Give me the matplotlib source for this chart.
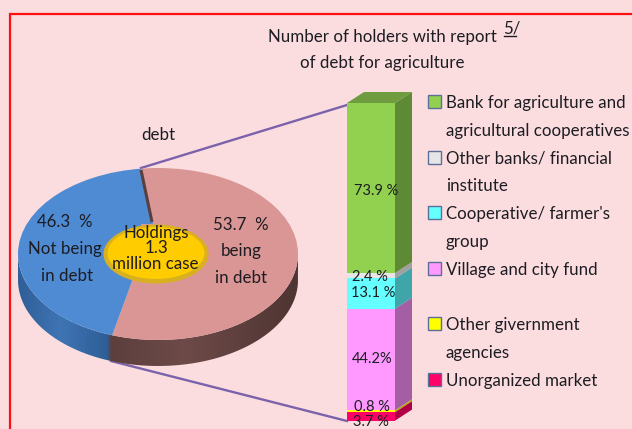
import matplotlib
matplotlib.use('Agg')
import matplotlib.pyplot as plt
import numpy as np
from matplotlib.patches import Ellipse, Rectangle, PathPatch
from matplotlib.path import Path
from matplotlib.colors import LinearSegmentedColormap

plt.rcParams['font.family'] = ['Lato', 'DejaVu Sans']

W, H = 632, 429
BG = '#fbdde0'
TXT = '#1c1c22'

# pie
pie_values = [53.7, 46.3]
pie_colors = ['#d99694', '#4f8bd2']

# stacked bar, bottom to top
bar_names = ['Unorganized market', 'Other givernment', 'Village and city fund',
             'Cooperative/ farmer\'s', 'Other banks/ financial', 'Bank for agriculture and']
bar_values = [3.7, 0.8, 44.2, 13.1, 2.4, 73.9]
bar_labels = ['3.7 %', '0.8 %', '44.2%', '13.1 %', '2.4 %', '73.9 %']
bar_colors = ['#ff0066', '#ffff00', '#ff99ff', '#66ffff', '#e6e6e6', '#92d050']
side_colors = ['#b00048', '#b0b000', '#a45fa4', '#40a5a8', '#a0a0a0', '#5f8a35']


def px_axes(x0, y0, x1, y1, z):
    a = fig.add_axes([x0 / W, 1 - y1 / H, (x1 - x0) / W, (y1 - y0) / H])
    a.set_zorder(z)
    a.axis('off')
    a.patch.set_alpha(0)
    return a


fig = plt.figure(figsize=(W / 100, H / 100), dpi=100, facecolor=BG)

# background axes in pixel coordinates
bg = px_axes(0, 0, W, H, 0)
bg.set_xlim(0, W)
bg.set_ylim(H, 0)
bg.plot([10, 10, W], [H, 14, 14], color='#ff1010', lw=1.6, solid_joinstyle='miter')

# connector lines
bg.plot([141, 347], [168, 105], color='#7b62ab', lw=1.7)
bg.plot([111, 347], [361, 421], color='#7b62ab', lw=1.7)

# side wall of the pie
cx, cy, a_p, b_p, depth = 158, 254, 140, 86, 26
t = np.linspace(np.pi, 2 * np.pi, 200)
ex = cx + a_p * np.cos(t)
ey = cy - b_p * np.sin(t)
wall = np.column_stack([np.r_[ex, ex[::-1]], np.r_[ey, ey[::-1] + depth]])
cmap = LinearSegmentedColormap.from_list('wall', [
    (0.0, '#2f5f98'), (0.15, '#3f74b4'), (0.32, '#2d5e96'), (0.33, '#5c3f3d'),
    (0.6, '#6d4a48'), (0.85, '#5a3d3b'), (1.0, '#4e3432')])
grad = np.linspace(0, 1, 300).reshape(1, -1)
im = bg.imshow(grad, extent=[cx - a_p, cx + a_p, cy + b_p + depth, cy], cmap=cmap, aspect='auto', zorder=2)
im.set_clip_path(PathPatch(Path(wall), transform=bg.transData))
bg.set_xlim(0, W)
bg.set_ylim(H, 0)

# pie top, stretched to an ellipse, apex pushed off centre under the gold disc
ax_pie = px_axes(cx - a_p, cy - b_p, cx + a_p, cy + b_p, 1)
wedges, _ = ax_pie.pie(pie_values, colors=pie_colors, startangle=90.6, counterclock=False,
                       center=(-0.114, 0), radius=1.5)
ax_pie.set_aspect('auto')
ax_pie.set_xlim(-1, 1)
ax_pie.set_ylim(-1, 1)
ax_pie.axis('off')
clip = Ellipse((0, 0), 2, 2, transform=ax_pie.transData)
for w in wedges:
    w.set_clip_on(True)
    w.set_clip_path(clip)

# top layer
top = px_axes(0, 0, W, H, 2)
top.set_xlim(0, W)
top.set_ylim(H, 0)

# blue runs up to the dark inner edge
top.fill([140, 153, 140], [168, 224, 224], color=pie_colors[1], lw=0)
top.plot([141, 152], [170, 222], color='#5a3f3f', lw=2.2, solid_capstyle='butt')
top.add_patch(Ellipse((156, 254), 105, 59, fc='#d9b020', ec='none'))
top.add_patch(Ellipse((156, 253), 97, 52, fc='#ffcc00', ec='none'))

fs = 12.2
for x, y, s in [(65, 222, '46.3  %'), (65, 249, 'Not being'), (67, 276, 'in debt'),
                (241, 225, '53.7  %'), (241, 251, 'being'), (241, 278, 'in debt'),
                (156, 233, 'Holdings'), (156, 248, '1.3'), (155, 264, 'million case'),
                (158, 135, 'debt')]:
    top.text(x, y, s, ha='center', va='center', fontsize=fs, color=TXT)

top.text(382, 37, 'Number of holders with report', ha='center', va='center', fontsize=fs, color=TXT)
top.text(382, 63, 'of debt for agriculture', ha='center', va='center', fontsize=fs, color=TXT)
top.text(512, 28, '5/', ha='center', va='center', fontsize=fs, color=TXT)
top.plot([504, 516], [35.5, 35.5], color=TXT, lw=1)

# legend
legend_rows = [(102, bar_colors[5], 'Bank for agriculture and'),
               (130, None, 'agricultural cooperatives'),
               (158, bar_colors[4], 'Other banks/ financial'),
               (185, None, 'institute'),
               (213, bar_colors[3], 'Cooperative/ farmer\'s'),
               (241, None, 'group'),
               (269, bar_colors[2], 'Village and city fund'),
               (324, bar_colors[1], 'Other givernment'),
               (352, None, 'agencies'),
               (380, bar_colors[0], 'Unorganized market')]
for y, c, s in legend_rows:
    top.text(446, y + 1, s, ha='left', va='center', fontsize=fs, color=TXT)
    if c:
        top.add_patch(Rectangle((428, y - 7), 13, 13, fc=c, ec='#5a6f9a', lw=1))

# stacked bar with its own value scale
unit = 2.3
bar_top = 103
bar_bot = bar_top + unit * sum(bar_values)
dx, dy = 17, 11
ax_bar = px_axes(347, bar_top - dy, 347 + 48 + dx, bar_bot, 3)
ax_bar.set_xlim(0, (48 + dx) / 48)
ax_bar.set_ylim(0, (bar_bot - bar_top + dy) / unit)
off_x, off_y = dx / 48, dy / unit

bottoms = np.r_[0, np.cumsum(bar_values)[:-1]]
ax_bar.bar(0.5, bar_values, width=1, bottom=bottoms, color=bar_colors, zorder=2)
for b, v, c in zip(bottoms, bar_values, side_colors):
    ax_bar.fill([1, 1 + off_x, 1 + off_x, 1], [b, b + off_y, b + v + off_y, b + v], color=c, lw=0, zorder=1)
total = sum(bar_values)
ax_bar.fill([0, off_x, 1 + off_x, 1], [total, total + off_y, total + off_y, total], color='#6f9c3e', lw=0, zorder=1)

label_x = [0.5, 0.52, 0.52, 0.54, 0.48, 0.6]
label_nudge = [-2.4, 1.8, 0, 0.3, -0.4, -1.3]
for b, v, s, lx, n in zip(bottoms, bar_values, bar_labels, label_x, label_nudge):
    ax_bar.text(lx, b + v / 2 + n, s, ha='center', va='center', fontsize=10.5, color=TXT,
                zorder=3, clip_on=False)

fig.savefig('out.png', dpi=100, facecolor=BG)
